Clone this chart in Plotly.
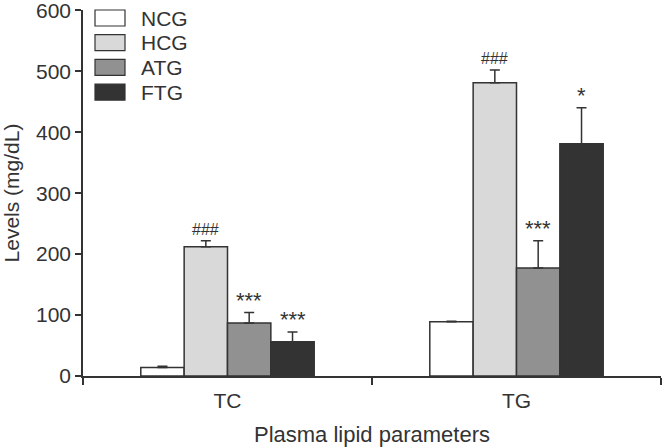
import plotly.graph_objects as go

categories = ["TC", "TG"]
groups = ["NCG", "HCG", "ATG", "FTG"]
values = {
    "NCG": [14, 89],
    "HCG": [212, 481],
    "ATG": [87, 177],
    "FTG": [56, 381],
}
errors = {
    "NCG": [2, 1],
    "HCG": [10, 21],
    "ATG": [17, 45],
    "FTG": [16, 59],
}
signif = {
    "NCG": ["", ""],
    "HCG": ["###", "###"],
    "ATG": ["***", "***"],
    "FTG": ["***", "*"],
}
y_ticks = [0, 100, 200, 300, 400, 500, 600]
colors = {"NCG": "#ffffff", "HCG": "#d9d9d9", "ATG": "#919191", "FTG": "#333333"}

FONT = "Liberation Sans, Arial, sans-serif"
INK = "#333333"

fig = go.Figure()
for g in groups:
    fig.add_trace(go.Bar(
        x=categories, y=values[g], name=g,
        marker=dict(color=colors[g], line=dict(color=INK, width=1.5)),
        error_y=dict(type="data", symmetric=False, array=errors[g],
                     arrayminus=[0] * len(categories),
                     color=INK, thickness=1.5, width=5),
        showlegend=False,
    ))

bargap = 0.4
bw = (1 - bargap) / len(groups)
annotations = []
for gi, g in enumerate(groups):
    off = (gi - (len(groups) - 1) / 2) * bw
    for ci, c in enumerate(categories):
        s = signif[g][ci]
        if not s:
            continue
        annotations.append(dict(
            x=ci + off, y=values[g][ci] + errors[g][ci], xref="x", yref="y",
            text=s, showarrow=False, yanchor="bottom",
            yshift=-2 if "*" in s else 1,
            font=dict(family=FONT, size=22 if "*" in s else 16, color=INK),
        ))

# legend (drawn manually to match box size)
PH = 366.0
for i, g in enumerate(groups):
    top = i * 24.7  # px below plot top
    fig.add_shape(type="rect", xref="paper", yref="paper",
                  x0=(95 - 83) / 578, x1=(125 - 83) / 578,
                  y0=1 - (top + 16) / PH, y1=1 - top / PH,
                  fillcolor=colors[g], line=dict(color=INK, width=1.2))
    annotations.append(dict(
        x=(139 - 83) / 578, y=1 - (top + 8) / PH, xref="paper", yref="paper",
        text=g, showarrow=False, xanchor="left", yanchor="middle",
        font=dict(family=FONT, size=21, color=INK),
    ))

fig.update_layout(
    width=664, height=447,
    margin=dict(l=83, r=3, t=10, b=71),
    paper_bgcolor="white", plot_bgcolor="white",
    barmode="group", bargap=bargap, bargroupgap=0,
    font=dict(family=FONT, color=INK),
    annotations=annotations,
)
fig.update_xaxes(
    range=[-0.5, 1.5], showline=True, linecolor=INK, linewidth=1.5,
    ticks="outside", tickson="boundaries", ticklen=7, tickcolor=INK, tickwidth=1.5,
    tickfont=dict(size=21, color=INK), showgrid=False, automargin=False,
    ticklabelstandoff=5,
    title=dict(text="Plasma lipid parameters", font=dict(size=22, color=INK), standoff=18),
)
fig.update_yaxes(
    range=[0, 600.5], tickmode="array", tickvals=y_ticks, ticktext=[str(v) for v in y_ticks],
    showline=True, linecolor=INK, linewidth=1.5,
    ticks="outside", ticklen=6, tickcolor=INK, tickwidth=1.5,
    tickfont=dict(size=21, color=INK), showgrid=False, zeroline=False, automargin=False,
    ticklabeloverflow="allow",
    title=dict(text="Levels (mg/dL)", font=dict(size=21, color=INK), standoff=13),
)

fig.write_html("out.html", config={"displayModeBar": False},
               post_script="document.body.style.margin='0px';")
